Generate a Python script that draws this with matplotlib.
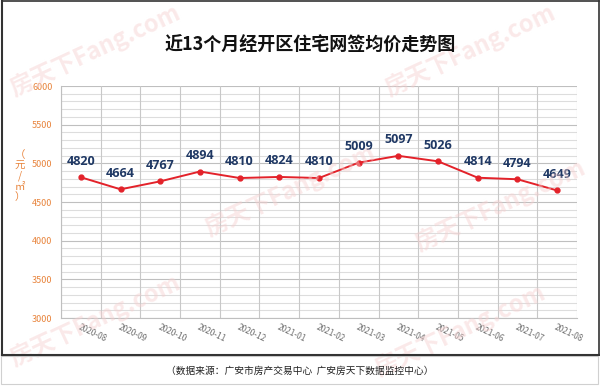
import matplotlib
matplotlib.use('Agg')
import matplotlib.pyplot as plt
from matplotlib.lines import Line2D
from matplotlib.patches import Rectangle
import numpy as np

plt.rcParams['font.family'] = ['Noto Sans CJK SC', 'DejaVu Sans']

months = ['2020-08', '2020-09', '2020-10', '2020-11', '2020-12', '2021-01', '2021-02',
          '2021-03', '2021-04', '2021-05', '2021-06', '2021-07', '2021-08']
prices = [4820, 4664, 4767, 4894, 4810, 4824, 4810, 5009, 5097, 5026, 4814, 4794, 4649]
title = '近13个月经开区住宅网签均价走势图'
source = '（数据来源：广安市房产交易中心  广安房天下数据监控中心）'

W, H = 600, 386
fig = plt.figure(figsize=(W / 100, H / 100), dpi=100)

def fx(px):
    return px / W

def fy(py):
    return 1 - py / H

# faint watermarks
marks = [(95, 50), (470, 50), (290, 190), (500, 205), (95, 320), (460, 330)]
for x, y in marks:
    fig.text(fx(x), fy(y), '房天下Fang.com', fontsize=17, color='#F6CFCF', alpha=0.45,
             rotation=25, ha='center', va='center', zorder=0, fontweight='bold')

ax = fig.add_axes([fx(61), fy(318), fx(577) - fx(61), fy(86) - fy(318)])
ax.set_facecolor('none')
x = np.arange(len(months))

# grid
for v in range(3000, 6001, 100):
    ax.axhline(v, color='#BFBFBF' if v % 500 == 0 else '#DDDDDD', lw=0.8, zorder=1)
for b in np.arange(-0.5, len(months), 1.0):
    ax.axvline(b, color='#C8C8C8', lw=0.8, zorder=1)

ax.plot(x, prices, color='#E3222A', lw=1.4, marker='o', ms=3.5, zorder=3)
for xi, p in zip(x, prices):
    ax.annotate(str(p), (xi, p), xytext=(0, 7), textcoords='offset points',
                ha='center', va='bottom', fontsize=9, fontweight='bold', color='#1F3864',
                family=['Open Sans', 'DejaVu Sans'])

ax.set_xlim(-0.5, len(months) - 0.5)
ax.set_ylim(3000, 6000)
ax.set_yticks(range(3000, 6001, 500))
ax.tick_params(axis='y', length=0, labelsize=6.5, labelcolor='#E8843C', pad=6)
ax.set_xticks(x)
ax.set_xticklabels(months, rotation=-25, ha='left', rotation_mode='anchor',
                   fontsize=6, color='#707070')
ax.tick_params(axis='x', length=0, pad=3)
for s in ['top', 'right']:
    ax.spines[s].set_visible(False)
ax.spines['left'].set_color('#BFBFBF')
ax.spines['bottom'].set_color('#BFBFBF')

fig.text(fx(20), fy(176), '（\n元\n/\n㎡\n）', fontsize=7.5, color='#E8843C',
         ha='center', va='center', linespacing=1.05)

fig.text(fx(310), fy(45), title, fontsize=13, fontweight='bold', color='#111111',
         ha='center', va='center')
fig.text(fx(300), fy(371), source, fontsize=7, color='#222222', ha='center', va='center')

# frame
dark = '#333333'
fig.add_artist(Line2D([fx(2), fx(2)], [fy(1), fy(355)], color=dark, lw=1.5))
fig.add_artist(Line2D([fx(2), fx(599)], [fy(1), fy(1)], color=dark, lw=1.2))
fig.add_artist(Line2D([fx(599), fx(599)], [fy(1), fy(355)], color=dark, lw=1.2))
fig.add_artist(Line2D([fx(2), fx(599)], [fy(355), fy(355)], color=dark, lw=1.5))
fig.add_artist(Rectangle((fx(1), fy(384)), fx(598) - fx(1), fy(356) - fy(384),
                         fill=False, edgecolor='#D0D0D0', lw=0.8))

fig.savefig('out.png', dpi=100)
